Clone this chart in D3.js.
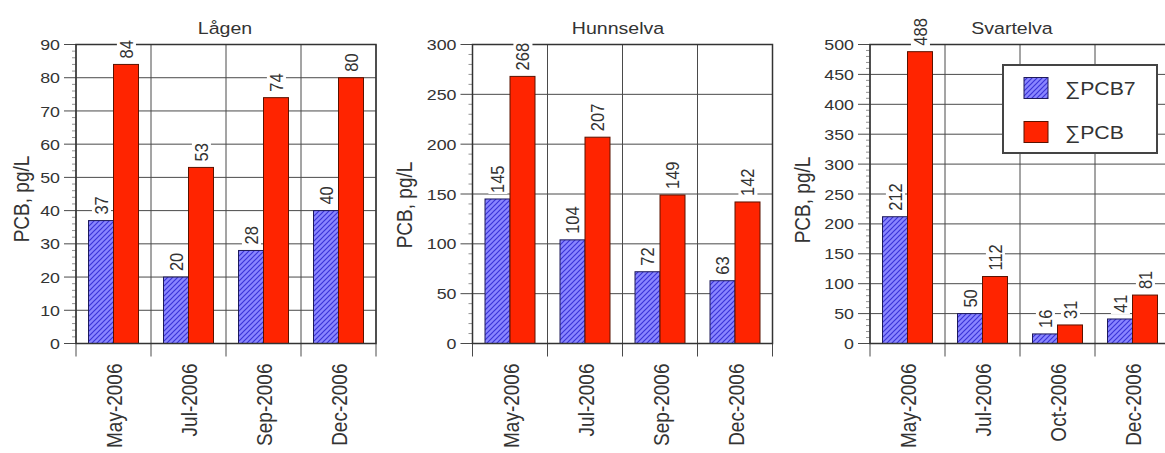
<!DOCTYPE html>
<html>
<head>
<meta charset="utf-8">
<script src="https://cdn.jsdelivr.net/npm/d3@7"></script>
<style>
  html, body { margin: 0; padding: 0; background: #fff; }
  svg { display: block; }
  text { font-family: "Liberation Sans", Arial, sans-serif; fill: #333; }
</style>
</head>
<body>
<svg id="chart" width="1165" height="453"></svg>
<script>
// ---- data ----
const panelTitles = ["Lågen", "Hunnselva", "Svartelva"];
const datesLagen = ["May-2006", "Jul-2006", "Sep-2006", "Dec-2006"];
const datesHunnselva = ["May-2006", "Jul-2006", "Sep-2006", "Dec-2006"];
const datesSvartelva = ["May-2006", "Jul-2006", "Oct-2006", "Dec-2006"];
const pcb7Lagen = [37, 20, 28, 40];
const pcbLagen = [84, 53, 74, 80];
const pcb7Hunnselva = [145, 104, 72, 63];
const pcbHunnselva = [268, 207, 149, 142];
const pcb7Svartelva = [212, 50, 16, 41];
const pcbSvartelva = [488, 112, 31, 81];
const yMaxValues = [90, 300, 500];
const yTickSteps = [10, 50, 50];
const seriesNames = ["∑PCB7", "∑PCB"];
const yAxisTitle = "PCB, pg/L";

const panels = [
  { title: panelTitles[0], dates: datesLagen, s7: pcb7Lagen, s: pcbLagen, max: yMaxValues[0], step: yTickSteps[0] },
  { title: panelTitles[1], dates: datesHunnselva, s7: pcb7Hunnselva, s: pcbHunnselva, max: yMaxValues[1], step: yTickSteps[1] },
  { title: panelTitles[2], dates: datesSvartelva, s7: pcb7Svartelva, s: pcbSvartelva, max: yMaxValues[2], step: yTickSteps[2] }
];

// ---- layout ----
const plotLefts = [76, 472.5, 870];
const plotWidth = 300;
const plotTop = 44.5;
const plotBottom = 343.5;
const titleCenters = [225, 618, 1012];
const yTitleCenters = [[21, 199], [404, 205], [802, 200]];
const SX = 1.15;               // horizontal glyph stretch
const gridColor = "#4a4a4a";
const red = "#ff2400", redStroke = "#5a1200";
const blue = "#8a86ff", blueLine = "#3a34d8", blueStroke = "#1e1a5a";

const svg = d3.select("#chart");

// hatch pattern for the ∑PCB7 bars
const defs = svg.append("defs");
const pat = defs.append("pattern")
  .attr("id", "hatch").attr("patternUnits", "userSpaceOnUse")
  .attr("width", 5).attr("height", 5);
pat.append("rect").attr("width", 5).attr("height", 5).attr("fill", blue);
pat.append("path")
  .attr("d", "M-1,1 l2,-2 M0,5 l5,-5 M4,6 l2,-2")
  .attr("stroke", blueLine).attr("stroke-width", 1.2);

function stretchedText(parent, x, y, rot, str, size, anchor, dy) {
  const g = parent.append("g")
    .attr("transform", `translate(${x},${y}) scale(${SX},1) rotate(${rot})`);
  const t = g.append("text")
    .attr("x", 0).attr("y", 0)
    .attr("dy", dy)
    .attr("text-anchor", anchor)
    .style("font-size", size + "px")
    .text(str);
  return { g, t };
}

panels.forEach((p, i) => {
  const left = plotLefts[i];
  const right = left + plotWidth;
  const g = svg.append("g");

  const x = d3.scaleBand().domain(p.dates).range([left, right]).paddingInner(0).paddingOuter(0);
  const xs = d3.scaleBand().domain([0, 1]).range([0, x.bandwidth()]).paddingInner(0).paddingOuter(0.5);
  const y = d3.scaleLinear().domain([0, p.max]).range([plotBottom, plotTop]);

  const majors = d3.range(0, p.max + p.step / 2, p.step);
  const minors = d3.range(0, p.max + 1e-9, p.step / 5).filter(v => Math.abs(v / p.step - Math.round(v / p.step)) > 1e-6);

  // horizontal grid lines (extending out as major ticks)
  g.append("g").selectAll("line").data(majors).join("line")
    .attr("x1", left - 12).attr("x2", right)
    .attr("y1", d => y(d)).attr("y2", d => y(d))
    .attr("stroke", gridColor).attr("stroke-width", 1);

  // vertical grid lines at category boundaries, extended below as ticks
  const bounds = p.dates.map(d => x(d)).concat([right]);
  g.append("g").selectAll("line").data(bounds).join("line")
    .attr("x1", d => d).attr("x2", d => d)
    .attr("y1", plotTop).attr("y2", plotBottom + 13)
    .attr("stroke", gridColor).attr("stroke-width", 1);

  // minor ticks on the value axis
  g.append("g").selectAll("line").data(minors).join("line")
    .attr("x1", left - 4).attr("x2", left)
    .attr("y1", d => y(d)).attr("y2", d => y(d))
    .attr("stroke", "#777").attr("stroke-width", 0.8);

  // bars
  const rows = p.dates.map((d, k) => ({ date: d, v: [p.s7[k], p.s[k]] }));
  rows.forEach(r => {
    r.v.forEach((v, si) => {
      const bx = x(r.date) + xs(si);
      g.append("rect")
        .attr("x", bx).attr("y", y(v))
        .attr("width", xs.bandwidth()).attr("height", y(0) - y(v))
        .attr("fill", si === 0 ? "url(#hatch)" : red)
        .attr("stroke", si === 0 ? blueStroke : redStroke)
        .attr("stroke-width", 1);
    });
  });

  // plot frame
  g.append("rect")
    .attr("x", left).attr("y", plotTop)
    .attr("width", plotWidth).attr("height", plotBottom - plotTop)
    .attr("fill", "none").attr("stroke", "#333").attr("stroke-width", 1.5);

  // value labels with white backing
  rows.forEach(r => {
    r.v.forEach((v, si) => {
      const cx = x(r.date) + xs(si) + xs.bandwidth() / 2;
      const lab = stretchedText(g, cx, y(v) - 6, -90, String(v), 16.5, "start", "0.36em");
      const bb = lab.t.node().getBBox();
      lab.g.insert("rect", "text")
        .attr("x", bb.x - 1).attr("y", bb.y + 1)
        .attr("width", bb.width + 2).attr("height", bb.height - 2)
        .attr("fill", "#fff");
    });
  });

  // value axis labels
  majors.forEach(v => {
    stretchedText(g, left - 16, y(v), 0, String(v), 15.5, "end", "0.36em");
  });

  // category labels
  p.dates.forEach(d => {
    stretchedText(g, x(d) + x.bandwidth() / 2 + 1, plotBottom + 20, -90, d, 19, "end", "0.36em");
  });

  // panel title
  stretchedText(g, titleCenters[i], 34, 0, p.title, 17, "middle", "0");

  // value axis title
  stretchedText(g, yTitleCenters[i][0], yTitleCenters[i][1], -90, yAxisTitle, 19, "middle", "0.36em");
});

// legend (in the Svartelva panel)
const lg = svg.append("g");
lg.append("rect")
  .attr("x", 1003).attr("y", 65).attr("width", 154).attr("height", 88)
  .attr("fill", "#fff").attr("stroke", "#444").attr("stroke-width", 2);
const legendRows = [
  { name: seriesNames[0], fill: "url(#hatch)", stroke: blueStroke, cy: 88 },
  { name: seriesNames[1], fill: red, stroke: redStroke, cy: 132 }
];
legendRows.forEach(r => {
  lg.append("rect")
    .attr("x", 1024).attr("y", r.cy - 10.5).attr("width", 24).attr("height", 21)
    .attr("fill", r.fill).attr("stroke", r.stroke).attr("stroke-width", 1);
  stretchedText(lg, 1065, r.cy, 0, r.name, 18.5, "start", "0.36em");
});
</script>
</body>
</html>
